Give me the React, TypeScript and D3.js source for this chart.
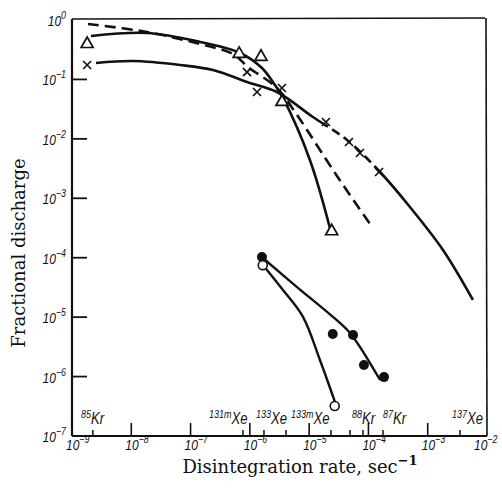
import React from 'react';
import * as d3 from 'd3';

// ---------- data ----------
const decadeExponents = [-9, -8, -7, -6, -5, -4, -3, -2];
const yDecadeExponents = [0, -1, -2, -3, -4, -5, -6, -7];

// isotope disintegration rates (small ticks on x axis)
const isotopeTickRates = [2.25e-9, 7.65e-7, 1.73e-6, 4.07e-6, 2.33e-5, 4.89e-5, 8.1e-5, 1.76e-4, 3.5e-3];
const isotopeLabelMass = ['85', '131m', '133', '133m', '88', '87', '137'];
const isotopeLabelElement = ['Kr', 'Xe', 'Xe', 'Xe', 'Kr', 'Kr', 'Xe'];
const isotopeLabelRate = [1.42e-9, 2.05e-7, 1.27e-6, 4.94e-6, 5.28e-5, 1.76e-4, 2.57e-3];

const triangleRates = [1.8e-9, 6.6e-7, 1.54e-6, 3.48e-6, 2.4e-5];
const triangleFractions = [0.41, 0.28, 0.25, 0.0434, 2.9e-4];
const crossRates = [1.8e-9, 8.95e-7, 1.32e-6, 3.48e-6, 1.92e-5, 4.7e-5, 7.2e-5, 1.51e-4];
const crossFractions = [0.175, 0.133, 0.0614, 0.0718, 0.0192, 0.00885, 0.00578, 0.00277];
const filledRates = [1.6e-6, 2.5e-5, 5.5e-5, 8.4e-5, 1.83e-4];
const filledFractions = [1.03e-4, 5.2e-6, 5.0e-6, 1.57e-6, 9.8e-7];
const openRates = [1.65e-6, 2.7e-5];
const openFractions = [7.5e-5, 3.2e-7];

const dashedCurveRates = [1.86e-9, 1.84e-8, 1.44e-7, 5.19e-7, 9.29e-7, 2.86e-6, 6.24e-6, 2.95e-5, 1.19e-4];
const dashedCurveFractions = [0.857, 0.628, 0.394, 0.268, 0.162, 0.0718, 0.0252, 0.00237, 3.16e-4];
const triCurveRates = [2.09e-9, 1.84e-8, 1.44e-7, 6.82e-7, 1.6e-6, 2.65e-6, 3.62e-6, 1.03e-5, 2.24e-5];
const triCurveFractions = [0.538, 0.604, 0.427, 0.279, 0.156, 0.0805, 0.0488, 0.00441, 3.16e-4];
const crossCurveRates = [2.54e-9, 1.07e-8, 6.64e-8, 2.39e-7, 8.95e-7, 2.86e-6, 1.16e-5, 4.35e-5, 1.57e-4, 5.02e-4, 1.81e-3, 5.79e-3];
const crossCurveFractions = [0.189, 0.204, 0.175, 0.144, 0.0906, 0.0614, 0.0233, 0.00957, 0.00277, 7.13e-4, 1.35e-4, 1.95e-5];
const crossCurveDashFrom = 1.92e-5;
const crossCurveDashTo = 1.51e-4;
const openCurveRates = [1.66e-6, 3.62e-6, 7.87e-6, 1.52e-5, 2.73e-5];
const openCurveFractions = [7.55e-5, 2.86e-5, 1.01e-5, 1.9e-6, 3.73e-7];
const filledCurveRates = [1.66e-6, 6.24e-6, 2.52e-5, 4.89e-5, 1.57e-4];
const filledCurveFractions = [9.89e-5, 3.21e-5, 1.01e-5, 5.41e-6, 8.75e-7];

// ---------- layout ----------
const W = 502, H = 493;
const L = 72, R = 487, T = 20, B = 436;

const x = d3.scaleLog().domain([1e-9, 1e-2]).range([L, R]);
const y = d3.scaleLog().domain([1e-7, 1]).range([B, T]);

const zip = (a: number[], b: number[]) => a.map((v, i) => [v, b[i]] as [number, number]);
const line = d3.line<[number, number]>()
  .x(d => x(d[0]))
  .y(d => y(d[1]))
  .curve(d3.curveCatmullRom.alpha(0.5));

const tickFont = '"Liberation Sans", Arial, sans-serif';
const labelFont = '"DejaVu Serif", serif';
const ink = '#111';

function Pow({ px, py, exp, anchor }: { px: number; py: number; exp: number; anchor: 'start' | 'end' }) {
  return (
    <text transform={`translate(${px},${py}) scale(0.8,1)`} textAnchor={anchor} fontFamily={tickFont} fontStyle="italic" fontSize={15} fill={ink}>
      10<tspan fontSize={11} dy={-7}>{exp === 0 ? '0' : '−' + Math.abs(exp)}</tspan>
    </text>
  );
}

export default function App() {
  const dashX0 = x(crossCurveDashFrom), dashX1 = x(crossCurveDashTo);
  const crossPath = line(zip(crossCurveRates, crossCurveFractions)) || '';
  return (
    <svg width={W} height={H} style={{ position: 'absolute', left: 0, top: 0, background: '#fff' }}>
      <defs>
        <clipPath id="solidA"><rect x={0} y={0} width={dashX0} height={H} /></clipPath>
        <clipPath id="solidB"><rect x={dashX1} y={0} width={W - dashX1} height={H} /></clipPath>
        <clipPath id="dashC"><rect x={dashX0} y={0} width={dashX1 - dashX0} height={H} /></clipPath>
      </defs>
      <rect width={W} height={H} fill="#fff" />

      {/* frame */}
      <line x1={L} y1={T - 1} x2={R - 2} y2={T - 2} stroke={ink} strokeWidth={1.6} />
      <line x1={R - 1} y1={T - 2} x2={R} y2={B} stroke={ink} strokeWidth={1.6} />
      <line x1={L} y1={T - 1} x2={L} y2={B} stroke={ink} strokeWidth={2.2} />
      <line x1={L} y1={B} x2={R} y2={B} stroke={ink} strokeWidth={2.2} />

      {/* y ticks and labels */}
      {yDecadeExponents.map(e => {
        const py = y(Math.pow(10, e));
        return (
          <g key={'y' + e}>
            {e < 0 && e > -7 && <line x1={L} x2={L + 15} y1={py} y2={py} stroke={ink} strokeWidth={1.8} />}
            <Pow px={66} py={py + 6} exp={e} anchor="end" />
          </g>
        );
      })}

      {/* x ticks and labels */}
      {decadeExponents.map(e => {
        const px = x(Math.pow(10, e));
        return (
          <g key={'x' + e}>
            {e > -9 && e < -2 && <line x1={px} x2={px} y1={B} y2={B - 13} stroke={ink} strokeWidth={1.6} />}
            <Pow px={Math.min(px - 6, 474)} py={450} exp={e} anchor="start" />
          </g>
        );
      })}
      {isotopeTickRates.map((r, i) => (
        <line key={'it' + i} x1={x(r)} x2={x(r)} y1={B} y2={B - 6} stroke={ink} strokeWidth={1.5} />
      ))}
      {isotopeLabelRate.map((r, i) => (
        <text key={'il' + i} transform={`translate(${x(r)},424) scale(0.82,1)`} fontFamily={tickFont} fontStyle="italic" fontSize={16} fill={ink}>
          <tspan fontSize={11} dy={-6}>{isotopeLabelMass[i]}</tspan>
          <tspan dy={6}>{isotopeLabelElement[i]}</tspan>
        </text>
      ))}

      {/* curves */}
      <path d={line(zip(dashedCurveRates, dashedCurveFractions)) || ''} fill="none" stroke={ink} strokeWidth={2.6} strokeDasharray="11 6" />
      <path d={line(zip(triCurveRates, triCurveFractions)) || ''} fill="none" stroke={ink} strokeWidth={2.6} />
      <path d={crossPath} fill="none" stroke={ink} strokeWidth={2.6} clipPath="url(#solidA)" />
      <path d={crossPath} fill="none" stroke={ink} strokeWidth={2.6} clipPath="url(#solidB)" />
      <path d={crossPath} fill="none" stroke={ink} strokeWidth={2.6} clipPath="url(#dashC)" strokeDasharray="9 5" />
      <path d={line(zip(openCurveRates, openCurveFractions)) || ''} fill="none" stroke={ink} strokeWidth={2.4} />
      <path d={line(zip(filledCurveRates, filledCurveFractions)) || ''} fill="none" stroke={ink} strokeWidth={2.4} />

      {/* markers */}
      {zip(triangleRates, triangleFractions).map((d, i) => {
        const cx = x(d[0]), cy = y(d[1]);
        return <path key={'t' + i} d={`M${cx},${cy - 6}L${cx + 6},${cy + 4.5}L${cx - 6},${cy + 4.5}Z`} fill="#fff" stroke={ink} strokeWidth={1.7} />;
      })}
      {zip(crossRates, crossFractions).map((d, i) => {
        const cx = x(d[0]), cy = y(d[1]);
        return <path key={'c' + i} d={`M${cx - 4},${cy - 4}L${cx + 4},${cy + 4}M${cx - 4},${cy + 4}L${cx + 4},${cy - 4}`} stroke={ink} strokeWidth={1.7} />;
      })}
      {zip(filledRates, filledFractions).map((d, i) => (
        <circle key={'f' + i} cx={x(d[0])} cy={y(d[1])} r={5} fill={ink} />
      ))}
      {zip(openRates, openFractions).map((d, i) => (
        <circle key={'o' + i} cx={x(d[0])} cy={y(d[1])} r={4.5} fill="#fff" stroke={ink} strokeWidth={1.6} />
      ))}

      {/* axis titles */}
      <text transform="translate(25,253) rotate(-90)" textAnchor="middle" fontFamily={labelFont} fontSize={18} fill={ink}>
        Fractional discharge
      </text>
      <text x={300} y={473} textAnchor="middle" fontFamily={labelFont} fontSize={18} fill={ink}>
        Disintegration rate, sec<tspan fontSize={13} dy={-8} fontWeight="bold">−1</tspan>
      </text>
    </svg>
  );
}
